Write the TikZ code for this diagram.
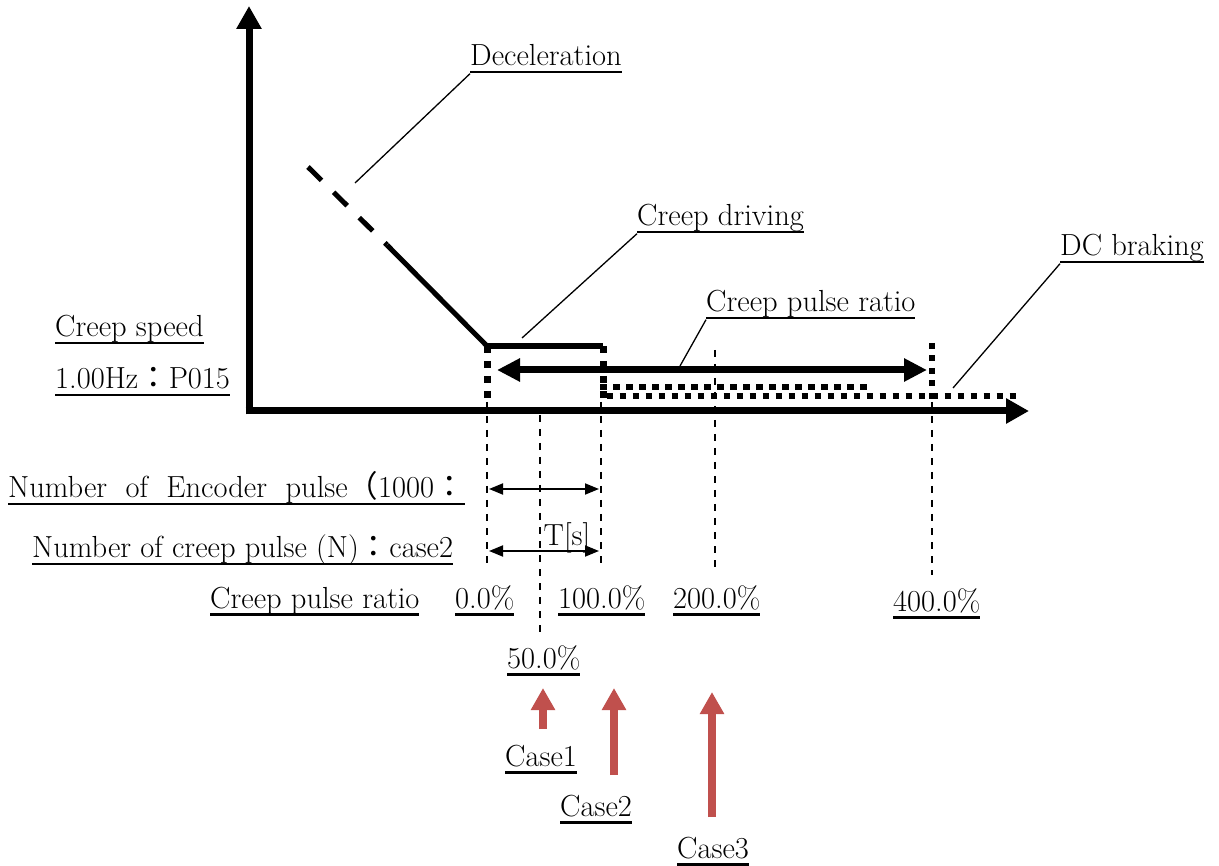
\documentclass[tikz,border=0pt]{standalone}
\usepackage{fontspec}
\newfontfamily\cjkfont{Noto Sans CJK JP}
\usepackage{xcolor}
\usetikzlibrary{arrows.meta,positioning,calc}

\definecolor{casered}{RGB}{192,80,77}
\newcommand{\fw}[1]{{\cjkfont #1}}
\newcommand{\ultext}[1]{\setbox0\hbox{#1}\leavevmode\rlap{\rule[-7.5pt]{\wd0}{2.2pt}}\box0}

\begin{document}
\begin{tikzpicture}[x=1pt,y=-1pt,
  lbl/.style={font=\fontsize{30.5}{35}\selectfont,inner sep=0pt,anchor=base west},
  axis/.style={line width=7pt,-{Triangle[width=24pt,length=23pt]}},
  sqdots/.style={line width=7pt,dash pattern=on 7pt off 8pt},
  guide/.style={line width=1.2pt,dash pattern=on 7pt off 7pt},
  leader/.style={line width=1.3pt},
  span/.style={line width=1.8pt,{Triangle[width=11pt,length=14pt]}-{Triangle[width=11pt,length=14pt]}},
  case arrow/.style={casered,line width=8pt,-{Triangle[width=23pt,length=22pt]}}]
  \useasboundingbox (0,0) rectangle (1219,866);

  % axes
  \coordinate (origin) at (249,411);
  \draw[axis] (249,414.5) -- (249,6);
  \draw[axis] (245.5,411) -- (1029,411);

  % speed profile
  \coordinate (dec top) at (308,167);
  \coordinate (dec mid) at (387,245);
  \coordinate (creep on) at (487,346);
  \coordinate (creep off) at (603,346);
  \draw[line width=5pt,dash pattern=on 19pt off 17pt] (dec top) -- (dec mid);
  \draw[line width=5pt] (dec mid) -- (creep on);
  \draw[line width=6pt] (creep on) -- (creep off);
  \draw[sqdots] (creep on) -- (487,402);
  \draw[sqdots] (creep off) -- (603,402);
  \draw[line width=6pt,dash pattern=on 6pt off 6.5pt] (932,343) -- (932,402);

  % DC braking
  \draw[line width=6pt,dash pattern=on 6.5pt off 6.5pt] (600,387.5) -- (868,387.5);
  \draw[line width=6pt,dash pattern=on 6.5pt off 6.5pt,dash phase=6.5pt] (600,396) -- (1020,396);

  % creep pulse ratio span
  \coordinate (ratio l) at (497,370);
  \coordinate (ratio r) at (927,370);
  \draw[line width=7pt,{Triangle[width=22pt,length=23pt]}-{Triangle[width=22pt,length=23pt]}] (ratio l) -- (ratio r);

  % guide lines
  \draw[guide] (487,402) -- (487,565);
  \draw[guide] (540,415) -- (540,632);
  \draw[guide] (601,402) -- (601,565);
  \draw[guide] (715,350) -- (715,568);
  \draw[guide] (932,402) -- (932,575);

  % pulse spans
  \coordinate (enc l) at (489,489);
  \coordinate (enc r) at (599,489);
  \coordinate (cp l) at (489,551);
  \coordinate (cp r) at (599,551);
  \draw[span] (enc l) -- (enc r);
  \draw[span] (cp l) -- (cp r);

  % callouts
  \node[lbl] (dec) at (470,66) {\ultext{Deceleration}};
  \node[lbl] (drive) at (637,226) {\ultext{Creep driving}};
  \node[lbl] (ratio) at (706,312) {\ultext{Creep pulse ratio}};
  \node[lbl] (dcb) at (1060,256) {\ultext{DC braking}};
  \coordinate (dec tip) at (355,183);
  \coordinate (drive tip) at (522,338);
  \coordinate (ratio tip) at (680,366);
  \coordinate (dcb tip) at (953,388);
  \draw[leader] (dec tip) -- (dec.south west);
  \draw[leader] (drive tip) -- (drive.south west);
  \draw[leader] (ratio tip) -- (ratio.south west);
  \draw[leader] (dcb tip) -- (dcb.south west);

  % left labels
  \node[lbl] (speed) at (55,337) {\ultext{Creep speed}};
  \node[lbl] (pset) at (55,389) {\ultext{1.00Hz\fw{：}P015}};
  \node[lbl] (enc) at (8,498) {\ultext{Number~~of~~Encoder~~pulse\fw{（}1000\fw{：}}};
  \node[lbl] (cpn) at (32,558) {\ultext{Number of creep pulse (N)\fw{：}case2}};
  \node[lbl,anchor=base] (period) at (567,545) {T[s]};
  \node[lbl] (rlbl) at (210,608) {\ultext{Creep pulse ratio}};
  \node[lbl] (p0) at (455,608) {\ultext{0.0\%}};
  \node[lbl] (p100) at (558,608) {\ultext{100.0\%}};
  \node[lbl] (p200) at (673,608) {\ultext{200.0\%}};
  \node[lbl] (p400) at (893,611) {\ultext{400.0\%}};
  \node[lbl] (p50) at (507,668) {\ultext{50.0\%}};

  % cases
  \draw[case arrow] (543,729) -- (543,688);
  \draw[case arrow] (614,775) -- (614,688);
  \draw[case arrow] (712,817) -- (712,692);
  \node[lbl] (case1) at (505,766) {\ultext{Case1}};
  \node[lbl] (case2) at (560,816) {\ultext{Case2}};
  \node[lbl] (case3) at (677,858) {\ultext{Case3}};
\end{tikzpicture}
\end{document}
